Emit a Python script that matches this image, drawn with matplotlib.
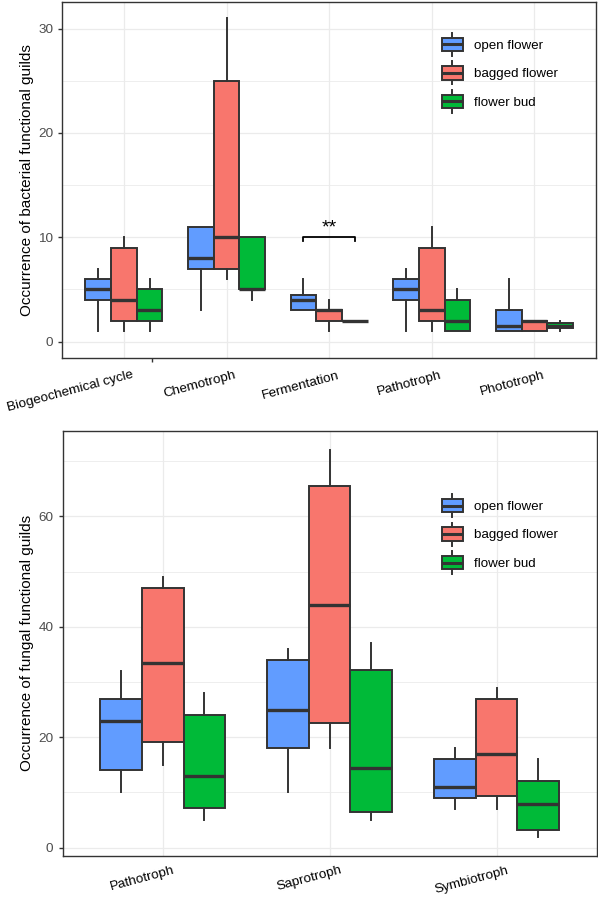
import matplotlib
matplotlib.use("Agg")
import matplotlib.pyplot as plt
import matplotlib.transforms as mtransforms
from matplotlib.legend_handler import HandlerBase
from matplotlib.patches import Rectangle, Patch
from matplotlib.lines import Line2D

plt.rcParams['font.family'] = ['Liberation Sans', 'DejaVu Sans']

groups = ["open flower", "bagged flower", "flower bud"]
colors = ["#619CFF", "#F8766D", "#00BA38"]

# five-number summaries: [lower whisker, Q1, median, Q3, upper whisker]
bac_categories = ["Biogeochemical cycle", "Chemotroph", "Fermentation", "Pathotroph", "Phototroph"]
bac_open = [[1, 4, 5, 6, 7], [3, 7, 8, 11, 11], [3, 3, 4, 4.5, 6], [1, 4, 5, 6, 7], [1, 1, 1.5, 3, 6]]
bac_bagged = [[1, 2, 4, 9, 10], [6, 7, 10, 25, 31], [1, 2, 3, 3, 4], [1, 2, 3, 9, 11], [1, 1, 2, 2, 2]]
bac_bud = [[1, 2, 3, 5, 6], [4, 5, 5, 10, 10], [2, 2, 2, 2, 2], [1, 1, 2, 4, 5], [1, 1.25, 1.5, 1.75, 2]]
bac_yticks = [0, 10, 20, 30]

fun_categories = ["Pathotroph", "Saprotroph", "Symbiotroph"]
fun_open = [[10, 14, 23, 27, 32], [10, 18, 25, 34, 36], [7, 9, 11, 16, 18]]
fun_bagged = [[15, 19.2, 33.5, 47, 49], [18, 22.5, 44, 65.5, 72], [7, 9.3, 17, 27, 29]]
fun_bud = [[5, 7.2, 13, 24, 28], [5, 6.5, 14.5, 32.2, 37], [2, 3.2, 8, 12, 16]]
fun_yticks = [0, 20, 40, 60]

sig_category = "Fermentation"
sig_pair = ("open flower", "flower bud")
sig_y = 10
sig_label = "**"

DARK = "#333333"
GRID = "#EBEBEB"


class BoxKey(HandlerBase):
    def create_artists(self, legend, orig_handle, xdescent, ydescent,
                       width, height, fontsize, trans):
        fc = orig_handle.get_facecolor()
        x0, y0 = -xdescent, -ydescent
        bh = height * 0.6
        by = y0 + (height - bh) / 2
        cx = x0 + width / 2
        wl = Line2D([cx, cx], [y0, y0 + height], color=DARK, lw=1.4, transform=trans)
        rect = Rectangle((x0, by), width, bh, facecolor=fc, edgecolor=DARK, lw=1.4, transform=trans)
        med = Line2D([x0, x0 + width], [y0 + height / 2] * 2, color=DARK, lw=2.2,
                     solid_capstyle='butt', transform=trans)
        return [wl, rect, med]


def draw(ax, cats, series, ylim, yticks, yminor, ylabel, tick_pos, lab_off, leg_anchor):
    n = len(cats)
    for gi, (vals, col) in enumerate(zip(series, colors)):
        stats = [dict(whislo=v[0], q1=v[1], med=v[2], q3=v[3], whishi=v[4], fliers=[])
                 for v in vals]
        pos = [i + (gi - 1) * 0.25 for i in range(n)]
        ax.bxp(stats, positions=pos, widths=0.25, patch_artist=True, showcaps=False,
               showfliers=False, manage_ticks=False,
               boxprops=dict(facecolor=col, edgecolor=DARK, linewidth=1.4),
               medianprops=dict(color=DARK, linewidth=2.4, solid_capstyle='butt'),
               whiskerprops=dict(color=DARK, linewidth=1.4), zorder=3)
    ax.set_xlim(-0.6, n - 0.4)
    ax.set_ylim(*ylim)
    ax.set_axisbelow(True)
    ax.set_yticks(yticks)
    ax.set_yticks(yminor, minor=True)
    ax.set_xticks(range(n))
    ax.set_xticklabels([""] * n)
    ax.set_xticks(tick_pos, minor=True)
    ax.tick_params(axis='x', which='major', length=0)
    ax.tick_params(axis='x', which='minor', length=3, width=1.0, color=DARK)
    ax.tick_params(axis='y', which='major', length=3, width=1.0, color=DARK,
                   labelsize=9.7, labelcolor="#4D4D4D", pad=3.6)
    ax.tick_params(axis='y', which='minor', length=0)
    ax.xaxis.grid(True, which='major', color=GRID, lw=0.9)
    ax.yaxis.grid(True, which='major', color=GRID, lw=0.9)
    ax.yaxis.grid(True, which='minor', color=GRID, lw=0.6)
    for s in ax.spines.values():
        s.set_color(DARK)
        s.set_linewidth(1.0)
    fig = ax.figure
    for i, c in enumerate(cats):
        tr = ax.get_xaxis_transform() + mtransforms.ScaledTranslation(
            lab_off[0] / 100, lab_off[1] / 100, fig.dpi_scale_trans)
        ax.text(i, 0, c, transform=tr, rotation=15, rotation_mode='anchor',
                ha='right', va='top', fontsize=9.7, color='black')
    ax.set_ylabel(ylabel, fontsize=11, color='black')
    ax.yaxis.set_label_coords(-0.053, 0.5)
    handles = [Patch(facecolor=c) for c in colors]
    ax.legend(handles, groups, handler_map={Patch: BoxKey()}, loc='upper left',
              bbox_to_anchor=leg_anchor, frameon=False, borderpad=0, borderaxespad=0,
              handlelength=1.58, handleheight=2.28, labelspacing=0.41,
              handletextpad=0.85, fontsize=9.6)


fig = plt.figure(figsize=(5.98, 9.0), dpi=100)
ax1 = fig.add_axes([62.3 / 598, 1 - 357.7 / 900, (596 - 62.3) / 598, (357.7 - 2) / 900])
ax2 = fig.add_axes([62.5 / 598, 1 - 856 / 900, (596.7 - 62.5) / 598, (856 - 430.7) / 900])

draw(ax1, bac_categories, [bac_open, bac_bagged, bac_bud], (-1.55, 32.55), bac_yticks,
     [5, 15, 25], "Occurrence of bacterial functional guilds",
     [0.27, 1, 2, 3, 4], (8, -11.5), (0.711, 0.913))
draw(ax2, fun_categories, [fun_open, fun_bagged, fun_bud], (-1.5, 75.5), fun_yticks,
     [10, 30, 50, 70], "Occurrence of fungal functional guilds",
     [0, 1, 2], (10, -8.5), (0.710, 0.851))

# significance bracket
ci = bac_categories.index(sig_category)
xa = ci + (groups.index(sig_pair[0]) - 1) * 0.25
xb = ci + (groups.index(sig_pair[1]) - 1) * 0.25
drop = 0.35
ax1.plot([xa, xa, xb, xb], [sig_y - drop, sig_y, sig_y, sig_y - drop], color='black', lw=1.3, zorder=4)
ax1.text((xa + xb) / 2, sig_y + 0.05, sig_label, ha='center', va='bottom', fontsize=14, color='black')

fig.savefig("out.png", dpi=100)
